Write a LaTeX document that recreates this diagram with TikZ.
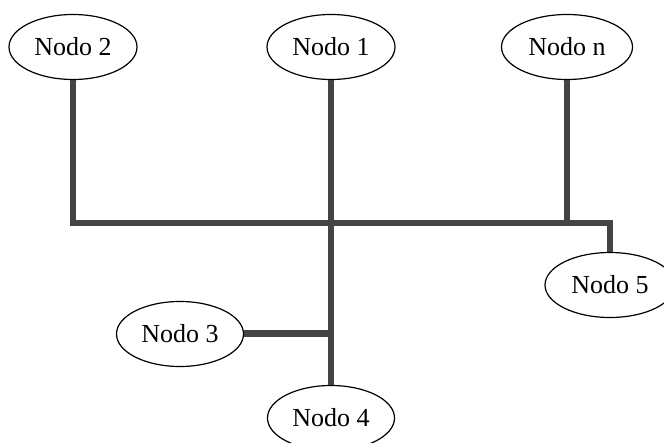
\documentclass[tikz,border=0pt]{standalone}
\usepackage{fontspec}
\setmainfont{Liberation Serif}
\usetikzlibrary{positioning, shapes.geometric}
\definecolor{linegray}{RGB}{68,68,68}

\begin{document}
\begin{tikzpicture}[x=1pt,y=-1pt,
    nodo/.style={draw,ellipse,line width=1.2pt,minimum width=128pt,minimum height=65pt,inner sep=0pt,font=\fontsize{26}{30}\selectfont},
    bar/.style={draw=linegray,line width=5.5pt,line join=miter}]
    \clip (0,0) rectangle (664,443);

    % upper row
    \node[nodo] (n2) at (73,47) {Nodo 2};
    \node[nodo] (n1) at (331,47) {Nodo 1};
    \node[nodo,minimum width=131pt] (nn) at (567,47) {Nodo n};

    % lower nodes
    \node[nodo,minimum width=130pt] (n5) at (610,285) {Nodo 5};
    \node[nodo,minimum width=127pt] (n3) at (180,334) {Nodo 3};
    \node[nodo,minimum width=127pt] (n4) at (331,418) {Nodo 4};

    % bus
    \coordinate (bus) at (331,223);

    % Lines
    \draw[bar] (n2.south) |- (n5.north |- bus) -- (n5.north);
    \draw[bar] (n1.south) -- (n4.north);
    \draw[bar] (nn.south) -- (nn.south |- bus);
    \draw[bar,line width=7pt] (n3.east) -- (n3.east -| n1.south);
\end{tikzpicture}
\end{document}
